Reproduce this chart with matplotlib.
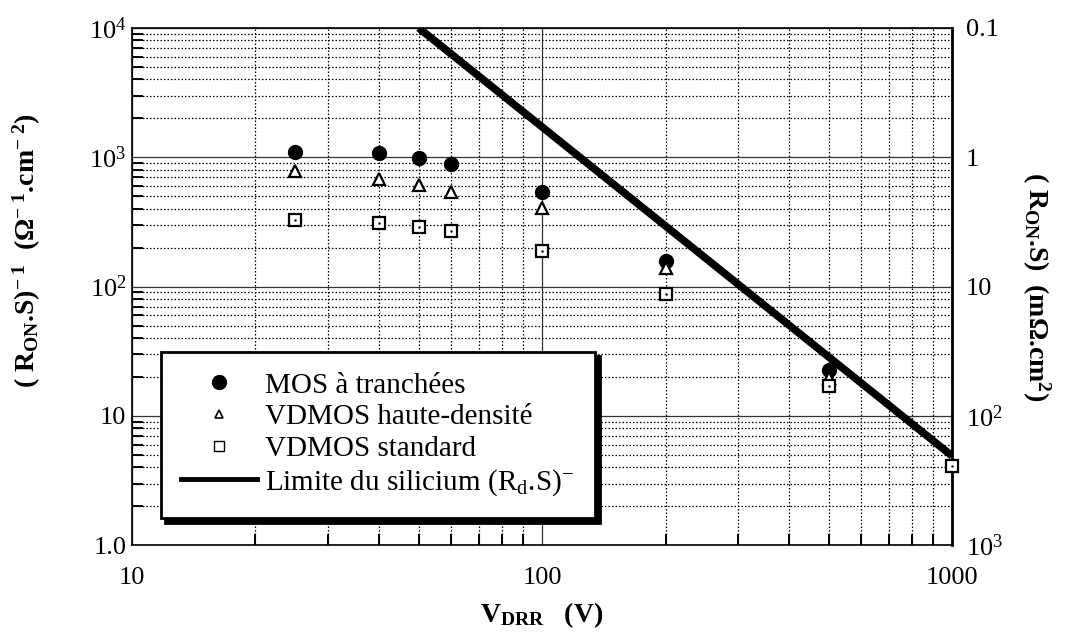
import matplotlib
matplotlib.use("Agg")
import matplotlib.pyplot as plt
from matplotlib.lines import Line2D
from matplotlib.ticker import FixedLocator, LogLocator, NullFormatter

plt.rcParams['font.family'] = ['Liberation Serif', 'DejaVu Serif']
plt.rcParams['mathtext.fontset'] = 'custom'
plt.rcParams['mathtext.rm'] = 'Liberation Serif'
plt.rcParams['mathtext.it'] = 'Liberation Serif:italic'
plt.rcParams['mathtext.bf'] = 'Liberation Serif:bold'
plt.rcParams['mathtext.default'] = 'regular'

# ---- data ----
v_trench = [25, 40, 50, 60, 100, 200, 500]
g_trench = [1100, 1080, 990, 880, 535, 158, 22.5]

v_hd = [25, 40, 50, 60, 100, 200, 500]
g_hd = [780, 675, 607, 535, 403, 140, 19.5]

v_std = [25, 40, 50, 60, 100, 200, 500, 1000]
g_std = [325, 310, 287, 267, 190, 88, 17.1, 4.1]

v_limit = [50, 1000]
g_limit = [10000, 4.9]

left_ticks = [1, 10, 100, 1000, 10000]
left_labels = ['1.0', '10', '10$^{2}$', '10$^{3}$', '10$^{4}$']
right_ticks = [0.1, 1, 10, 100, 1000]
right_labels = ['0.1', '1', '10', '10$^{2}$', '10$^{3}$']
x_ticks = [10, 100, 1000]
x_labels = ['10', '100', '1000']

legend_labels = ['MOS à tranchées', 'VDMOS haute-densité', 'VDMOS standard',
                 'Limite du silicium (R$_{d}$.S)$^{-}$']

# ---- figure ----
fig = plt.figure(figsize=(10.65, 6.34), dpi=100)
ax = fig.add_axes([0.124, 0.140, 0.770, 0.816])
ax.set_xscale('log')
ax.set_yscale('log')
ax.set_xlim(10, 1000)
ax.set_ylim(1, 10000)

# grid
ax.yaxis.set_minor_locator(LogLocator(base=10, subs=range(2, 10)))
ax.xaxis.set_minor_locator(LogLocator(base=10, subs=range(2, 10)))
ax.grid(True, which='major', color='#333333', linewidth=0.9, linestyle='-')
ax.grid(True, which='minor', color='black', linewidth=0.9, linestyle=(0, (1.2, 1.6)))
ax.set_axisbelow(True)

ax.set_xticks(x_ticks)
ax.set_xticklabels(x_labels)
ax.set_yticks(left_ticks)
ax.set_yticklabels(left_labels)
ax.xaxis.set_minor_formatter(NullFormatter())
ax.yaxis.set_minor_formatter(NullFormatter())
ax.tick_params(axis='both', which='major', direction='in', labelsize=19, length=0)
ax.tick_params(axis='x', which='major', pad=16)
ax.tick_params(axis='y', which='major', pad=4)
ax.tick_params(axis='both', which='minor', direction='in', length=8, width=1.4)

for side in ['left', 'bottom', 'top']:
    ax.spines[side].set_linewidth(1.2)
ax.spines['right'].set_linewidth(2.0)

# data
ax.plot(v_limit, g_limit, color='black', linewidth=5.5, solid_capstyle='butt', zorder=3)
ax.plot(v_trench, g_trench, linestyle='none', marker='o', markersize=10,
        color='black', zorder=4)
ax.plot(v_hd, g_hd, linestyle='none', marker='^', markersize=9,
        markerfacecolor='white', markeredgecolor='black', markeredgewidth=1.6, zorder=4)
ax.plot(v_std, g_std, linestyle='none', marker='s', markersize=9,
        markerfacecolor='white', markeredgecolor='black', markeredgewidth=1.6,
        zorder=5, clip_on=False)
ax.plot(v_std, g_std, linestyle='none', marker='.', markersize=1.5,
        color='black', zorder=6, clip_on=False)

# right axis
ax2 = ax.twinx()
ax2.set_yscale('log')
ax2.set_ylim(1000, 0.1)
ax2.yaxis.set_major_locator(FixedLocator(right_ticks))
ax2.set_yticklabels(right_labels)
ax2.yaxis.set_minor_locator(FixedLocator([]))
ax2.tick_params(axis='y', which='major', direction='in', length=0, labelsize=19, pad=10)
for s in ax2.spines.values():
    s.set_visible(False)

# labels
ax.set_xlabel('V$_{DRR}$   (V)', fontsize=20, fontweight='bold', labelpad=8)
ax.set_ylabel('( R$_{ON}$.S)$^{-\\ 1}$  (Ω$^{-\\ 1}$.cm$^{-\\ 2}$)', fontsize=20,
              fontweight='bold')
ax.yaxis.set_label_coords(-0.108, 0.57)
ax2.set_ylabel('( R$_{ON}$.S)  (mΩ.cm$^{2}$)', fontsize=20, fontweight='bold',
               rotation=270)
ax2.yaxis.set_label_coords(1.122, 0.50)

# legend
handles = [
    Line2D([], [], linestyle='none', marker='o', markersize=10, color='black'),
    Line2D([], [], linestyle='none', marker='^', markersize=6,
           markerfacecolor='white', markeredgecolor='black', markeredgewidth=1.2),
    Line2D([], [], linestyle='none', marker='s', markersize=7,
           markerfacecolor='white', markeredgecolor='black', markeredgewidth=1.0),
    Line2D([], [], color='black', linewidth=3.5),
]
leg = ax.legend(handles, legend_labels, loc='lower left',
                bbox_to_anchor=(0.035, 0.052, 0.53, 0.321), mode='expand',
                borderaxespad=0, fontsize=21, handlelength=2.6, handletextpad=0.27,
                labelspacing=0.18, borderpad=0.7, fancybox=False, framealpha=1,
                shadow={'color': 'black', 'alpha': 1, 'ox': 3, 'oy': -3})
leg.get_frame().set_edgecolor('black')
leg.get_frame().set_linewidth(2.0)
leg.set_zorder(10)

fig.savefig('out.png', dpi=100)
